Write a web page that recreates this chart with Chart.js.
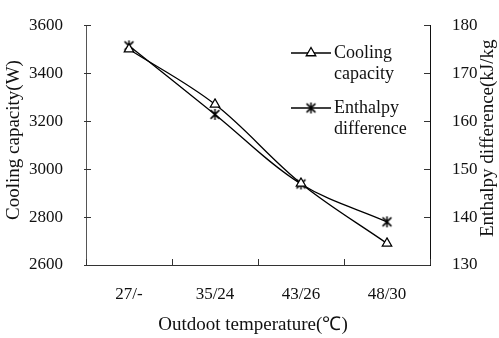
<!DOCTYPE html>
<html lang="en">
<head>
  <meta charset="UTF-8" />
  <title>Cooling capacity and enthalpy difference</title>
  <style>
    body { margin: 0; background: #fff; }
    #wrap { width: 499px; height: 338px; position: relative; }
  </style>
</head>
<body>
  <div id="wrap"><canvas id="chart"></canvas></div>
  <script src="https://cdn.jsdelivr.net/npm/chart.js"></script>
  <script>
    // values
    const categories = ['27/-', '35/24', '43/26', '48/30'];
    const coolingCapacity = [3500, 3270, 2940, 2690];
    const enthalpyDiff = [175.7, 161.4, 146.9, 139.0];
    const leftTicks = [2600, 2800, 3000, 3200, 3400, 3600];
    const rightTicks = [130, 140, 150, 160, 170, 180];

    const serif = '"Liberation Serif", "Times New Roman", serif';
    const ink = '#000';

    // asterisk marker: an X with a vertical stroke
    function makeStar(size) {
      const c = document.createElement('canvas');
      c.width = size; c.height = size;
      const g = c.getContext('2d');
      const m = size / 2, r = size / 2 - 1;
      g.strokeStyle = ink;
      g.lineWidth = 1.5;
      g.beginPath();
      g.moveTo(m - r * 0.8, m - r * 0.8); g.lineTo(m + r * 0.8, m + r * 0.8);
      g.moveTo(m + r * 0.8, m - r * 0.8); g.lineTo(m - r * 0.8, m + r * 0.8);
      g.moveTo(m, m - r); g.lineTo(m, m + r);
      g.stroke();
      return c;
    }
    const starImg = makeStar(13);

    // titles, inward tick marks and the two-line legend
    const decorations = {
      id: 'decorations',
      afterDraw(chart) {
        const ctx = chart.ctx;
        const x = chart.scales.x, yL = chart.scales.y, yR = chart.scales.y1;
        ctx.save();
        ctx.strokeStyle = '#333';
        ctx.lineWidth = 1;
        ctx.beginPath();
        yL.ticks.forEach((t, i) => {
          const py = Math.round(yL.getPixelForTick(i)) + 0.5;
          ctx.moveTo(yL.right - 2, py); ctx.lineTo(yL.right + 5, py);
        });
        yR.ticks.forEach((t, i) => {
          const py = Math.round(yR.getPixelForTick(i)) + 0.5;
          ctx.moveTo(yR.left - 6, py); ctx.lineTo(yR.left, py);
        });
        for (let i = 0; i <= categories.length; i++) {
          const px = Math.round(x.getPixelForValue(i - 0.5)) + 0.5;
          ctx.moveTo(px, x.top); ctx.lineTo(px, x.top - 6);
        }
        ctx.stroke();

        ctx.fillStyle = '#111';
        ctx.font = '19px ' + serif;
        ctx.textBaseline = 'middle';
        ctx.textAlign = 'center';
        ctx.fillText('Outdoot temperature(\u2103)', 253, 325);

        ctx.save();
        ctx.translate(14, 140);
        ctx.rotate(-Math.PI / 2);
        ctx.fillText('Cooling capacity(W)', 0, 0);
        ctx.restore();

        ctx.save();
        ctx.translate(488, 237);
        ctx.rotate(-Math.PI / 2);
        ctx.textAlign = 'left';
        ctx.fillText('Enthalpy difference(kJ/kg', 0, 0);
        ctx.restore();

        // legend
        ctx.font = '18px ' + serif;
        ctx.textAlign = 'left';
        chart.data.datasets.forEach((ds, i) => {
          const ly = 53 + i * 55;
          ctx.strokeStyle = ink;
          ctx.lineWidth = 1.3;
          ctx.beginPath();
          ctx.moveTo(291, ly); ctx.lineTo(331, ly);
          ctx.stroke();
          ctx.fillStyle = '#fff';
          Chart.helpers.drawPoint(ctx, {
            pointStyle: ds.pointStyle, radius: ds.pointRadius, rotation: 0, borderWidth: 1.2
          }, 311, ly);
          ds.label.split(' ').forEach((w, k) => {
            ctx.fillStyle = '#111';
            ctx.fillText(w, 334, ly + k * 21);
          });
        });
        ctx.restore();
      }
    };

    const plain = v => String(v);

    new Chart(document.getElementById('chart'), {
      type: 'line',
      data: {
        labels: categories,
        datasets: [{
          label: 'Cooling capacity',
          data: coolingCapacity,
          yAxisID: 'y',
          borderColor: ink,
          borderWidth: 1.3,
          tension: 0.35,
          pointStyle: 'triangle',
          pointRadius: 5.5,
          pointBackgroundColor: '#fff',
          pointBorderColor: ink,
          pointBorderWidth: 1.2
        }, {
          label: 'Enthalpy difference',
          data: enthalpyDiff,
          yAxisID: 'y1',
          borderColor: ink,
          borderWidth: 1.3,
          tension: 0.35,
          pointStyle: starImg,
          pointRadius: 6
        }]
      },
      options: {
        responsive: true,
        maintainAspectRatio: false,
        animation: false,
        layout: { padding: { top: 17, left: 0, right: 0, bottom: 0 } },
        plugins: { legend: { display: false }, tooltip: { enabled: false } },
        scales: {
          x: {
            offset: true,
            grid: { display: false },
            border: { display: true, color: '#333', width: 1 },
            ticks: { color: '#111', font: { family: serif, size: 17 }, padding: 11 },
            afterFit(s) { s.height = 73; }
          },
          y: {
            position: 'left',
            min: 2600, max: 3600,
            afterBuildTicks(s) { s.ticks = leftTicks.map(v => ({ value: v })); },
            grid: { display: false },
            border: { display: true, color: '#555', width: 1 },
            ticks: { color: '#111', font: { family: serif, size: 17 }, padding: 15, callback: plain },
            afterFit(s) { s.width = 86; }
          },
          y1: {
            position: 'right',
            min: 130, max: 180,
            afterBuildTicks(s) { s.ticks = rightTicks.map(v => ({ value: v })); },
            grid: { display: false },
            border: { display: true, color: '#111', width: 1 },
            ticks: { color: '#111', font: { family: serif, size: 17 }, padding: 14, callback: plain },
            afterFit(s) { s.width = 69; }
          }
        }
      },
      plugins: [decorations]
    });
  </script>
</body>
</html>
